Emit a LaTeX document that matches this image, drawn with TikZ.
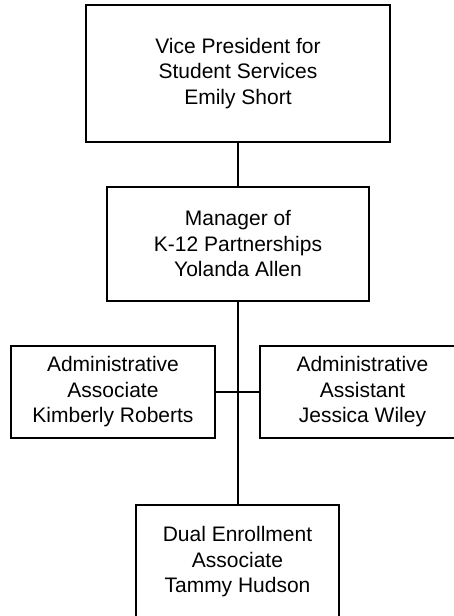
\documentclass[tikz,border=0pt]{standalone}
\usepackage{fontspec}
\setmainfont{Liberation Sans}
\begin{document}
\begin{tikzpicture}[x=1pt,y=-1pt,
  box/.style={draw=black, line width=2pt, align=center, inner sep=0pt,
    font=\fontsize{21}{25.5}\selectfont},
  conn/.style={draw=black, line width=2pt}]
\useasboundingbox (0,0) rectangle (454,616);
\clip (0,0) rectangle (454,616);
\node[box, minimum width=304pt, minimum height=137pt] (vp) at (238,73.5)
  {Vice President for\\Student Services\\Emily Short};
\node[box, minimum width=262pt, minimum height=114pt] (mgr) at (238,244)
  {Manager of\\K-12 Partnerships\\Yolanda Allen};
\node[box, minimum width=204pt, minimum height=92pt] (aa) at (113,392)
  {Administrative\\Associate\\Kimberly Roberts};
\node[box, minimum width=205pt, minimum height=92pt] (as) at (362.5,392)
  {Administrative\\Assistant\\Jessica Wiley};
\node[box, minimum width=203pt, minimum height=114pt] (de) at (237.5,562)
  {Dual Enrollment\\Associate\\Tammy Hudson};
\coordinate (j) at (238,392);
\draw[conn] (vp.south -| j) -- (mgr.north -| j);
\draw[conn] (mgr.south -| j) -- (de.north -| j);
\draw[conn] (aa.east) -- (as.west);
\end{tikzpicture}
\end{document}
